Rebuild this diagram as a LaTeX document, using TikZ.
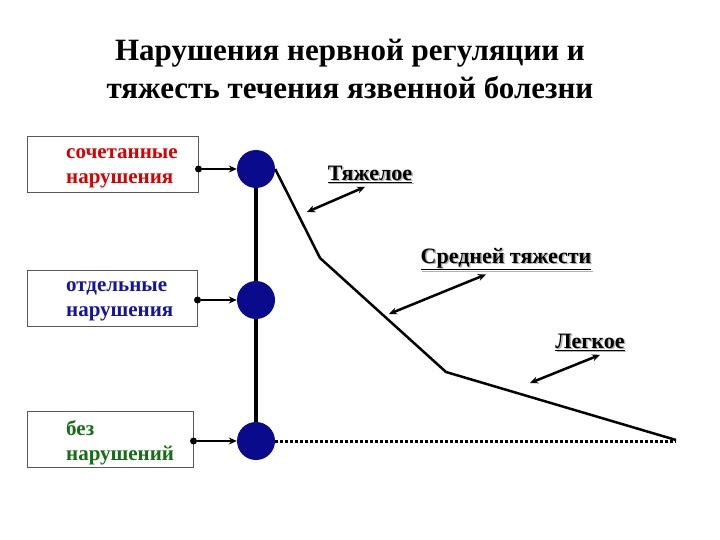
\documentclass[tikz,border=0pt]{standalone}
\usepackage{fontspec}
\setmainfont{Liberation Serif}
\usetikzlibrary{arrows.meta,calc}
\definecolor{navy}{RGB}{10,10,140}
\definecolor{dgreen}{RGB}{20,110,20}
\definecolor{dblue}{RGB}{20,20,160}
\tikzset{
 box/.style={draw=gray!70!black,line width=1pt,minimum width=#1,minimum height=56pt,inner sep=0pt},
 btext/.style={anchor=west,align=left,font=\bfseries\fontsize{21}{25}\selectfont,inner sep=0pt},
 dotnode/.style={circle,fill=navy,minimum size=38pt,inner sep=0pt},
 conn/.style={-{Stealth[length=8pt,width=7pt]},line width=2.5pt},
 dbl/.style={{Stealth[length=8pt,width=7pt]}-{Stealth[length=8pt,width=7pt]},line width=2.5pt},
 lab/.style={font=\bfseries\fontsize{22}{24}\selectfont},
 pt/.style={circle,fill=black,inner sep=0pt,minimum size=7pt},
 curve/.style={line width=2.5pt,line join=round},
}
\newcommand{\shlab}[3]{\node[lab,text=gray!60] at ($(#1)+(1.5,1.5)$) {\underline{#3}};\node[lab] (#2) at (#1) {\underline{#3}};}
\begin{document}
\begin{tikzpicture}[x=1pt,y=-1pt]
\useasboundingbox[fill=white] (0,0) rectangle (720,540);
\node[font=\bfseries\fontsize{31}{38}\selectfont,align=center] (title) at (350,69) {Нарушения нервной регуляции и\\тяжесть течения язвенной болезни};
\node[box=171pt] (b1) at (112.5,165) {};
\node[box=170pt] (b2) at (112,298.5) {};
\node[box=166pt] (b3) at (110,439.5) {};
\node[btext,text=red!85!black] (t1) at (66,168) {сочетанные\\нарушения};
\node[btext,text=dblue] (t2) at (66,301) {отдельные\\нарушения};
\node[btext,text=dgreen] (t3) at (66,443) {без\\нарушений};
\node[dotnode] (c1) at (256,169) {};
\node[dotnode] (c2) at (256,300) {};
\node[dotnode] (c3) at (256,441) {};
\draw[line width=4.5pt] (c1) -- (c2) -- (c3);
\node[pt] (p1) at (b1.east|-c1) {};
\node[pt] (p2) at (b2.east|-c2) {};
\node[pt] (p3) at (b3.east|-c3) {};
\draw[conn] (p1) -- (c1.west);
\draw[conn] (p2) -- (c2.west);
\draw[conn] (p3) -- (c3.west);
\coordinate (k1) at (320,258);
\coordinate (k2) at (446,372);
\coordinate (k3) at (676,440);
\draw[curve] (c1.east) -- (k1) -- (k2) -- (k3);
\draw[line width=3pt,dotted] (c3.east) -- (k3|-c3);
\shlab{370,174}{l1}{Тяжелое}
\shlab{506,259}{l2}{Средней тяжести}
\shlab{590,342}{l3}{Легкое}
\coordinate (a1) at (307,212);
\coordinate (a2) at (389,314);
\coordinate (a3) at (530,383);
\draw[dbl] (a1) -- ($(l1.south)+(-5,1)$);
\draw[dbl] (a2) -- ($(l2.south)+(-20,1)$);
\draw[dbl] (a3) -- ($(l3.south)+(10,1)$);
\end{tikzpicture}
\end{document}
